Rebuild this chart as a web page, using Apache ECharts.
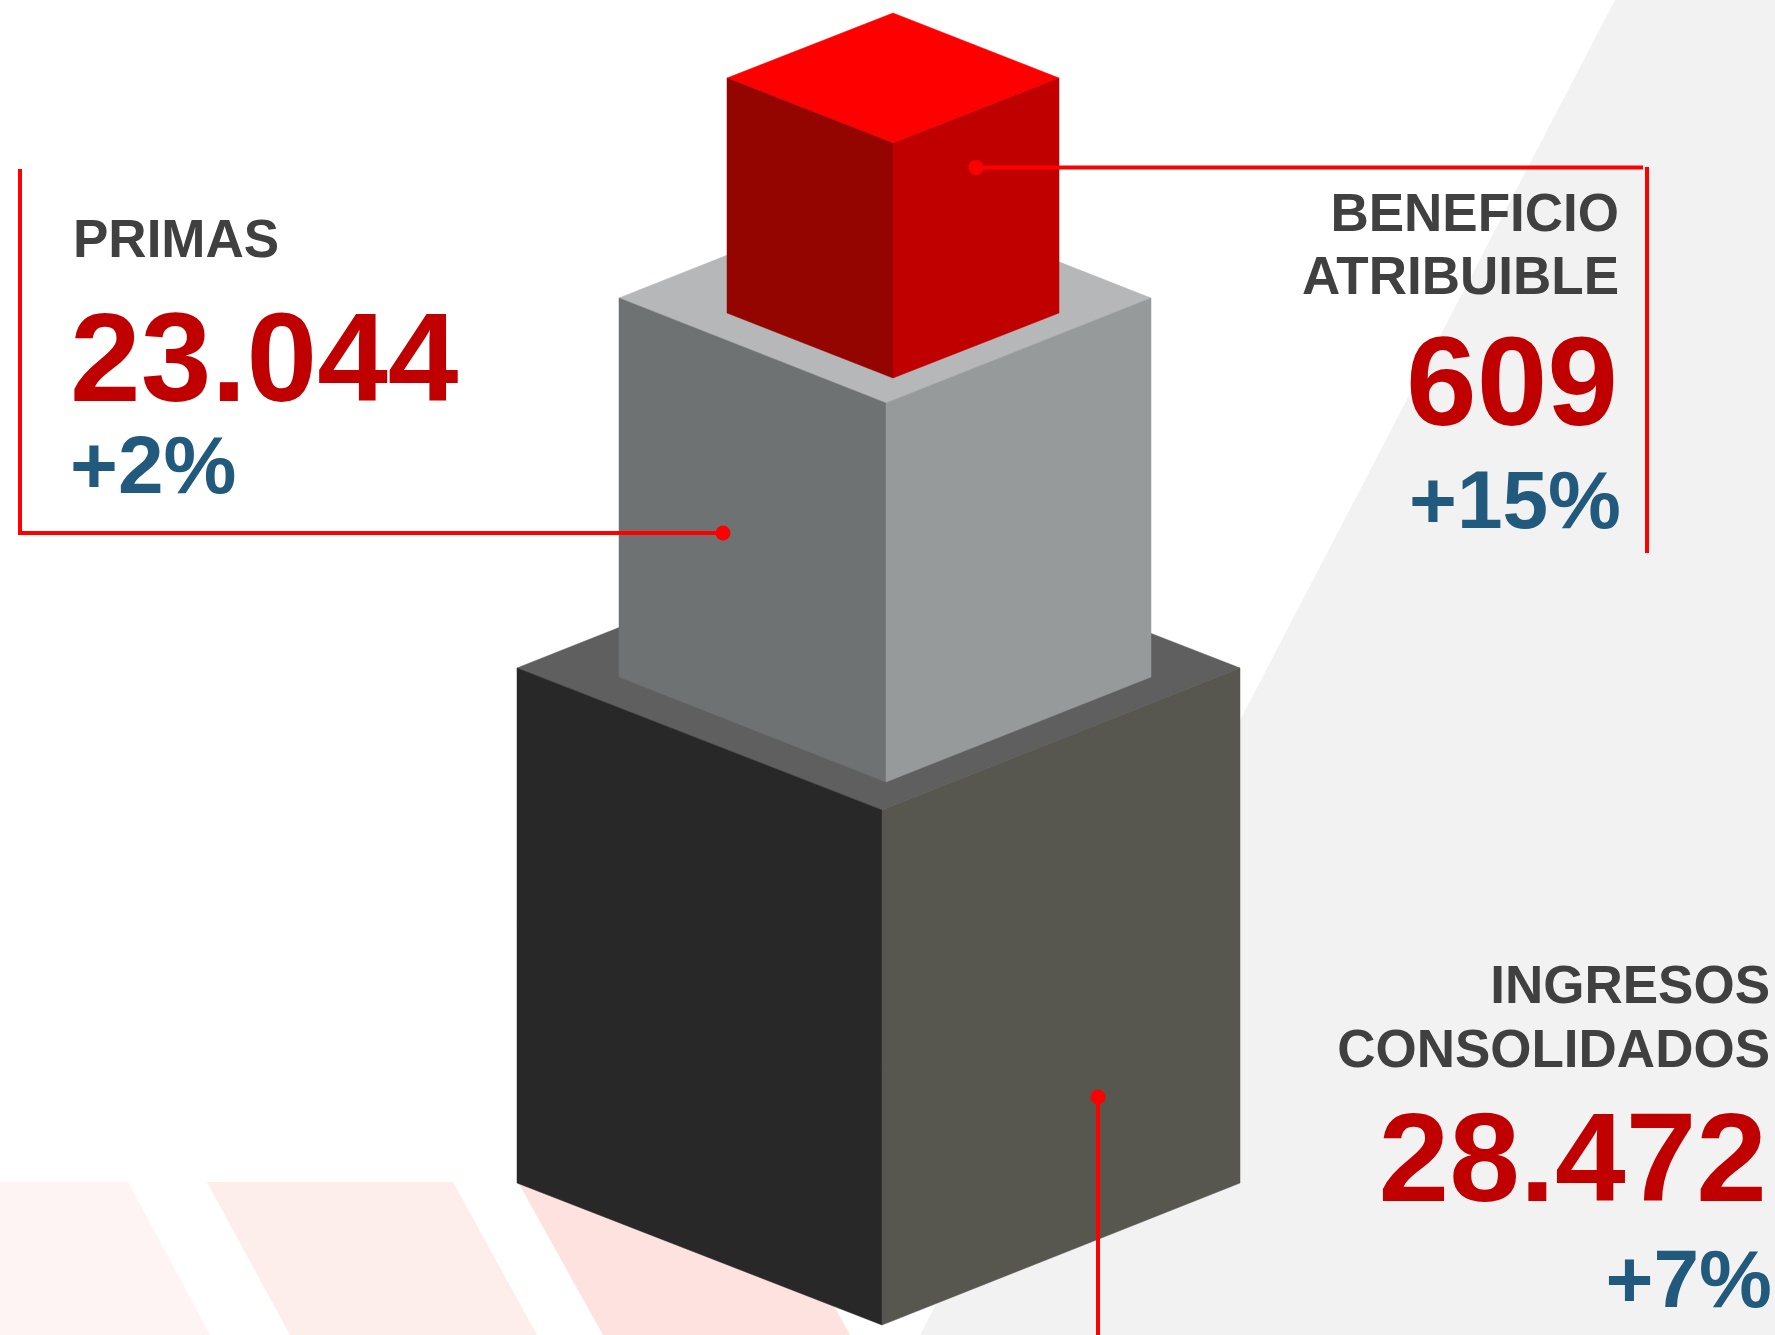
<!DOCTYPE html>
<html><head><meta charset="utf-8">
<script src="https://cdn.jsdelivr.net/npm/echarts@6/dist/echarts.min.js"></script>
<style>html,body{margin:0;padding:0;background:#fff}#c{width:1775px;height:1335px}</style>
</head><body><div id="c"></div>
<script>
// ---- data ----
const categories = ['INGRESOS CONSOLIDADOS', 'PRIMAS', 'BENEFICIO ATRIBUIBLE'];
const titleLines = [['INGRESOS', 'CONSOLIDADOS'], ['PRIMAS'], ['BENEFICIO', 'ATRIBUIBLE']];
const values = [28472, 23044, 609];
const changes = [7, 2, 15];

// ---- layout (axis units = px) ----
const CUBES = [
  {xl: 517, xf: 882, xr: 1240, yt: 668, d: 142, h: 515, top: '#5F5F5F', left: '#282828', right: '#575750'},
  {xl: 619, xf: 886, xr: 1151, yt: 298, d: 105, h: 379, top: '#B6B7B8', left: '#6F7273', right: '#979A9B'},
  {xl: 727, xf: 893, xr: 1059, yt: 78, d: 65, h: 235, top: '#FF0000', left: '#940500', right: '#C00000'}
];
const LABELS = [
  {align: 'right', titleX: 1770, titleY: [1003, 1067], titleSize: 53, valueX: 1767, valueY: 1200, pctX: 1772, pctY: 1307,
   dot: [1098, 1097], paths: [[[1098, 1097], [1098, 1340]]]},
  {align: 'left', titleX: 73, titleY: [257], titleSize: 53, valueX: 70, valueY: 400, pctX: 70, pctY: 493,
   dot: [723, 533], paths: [[[20, 169], [20, 533], [723, 533]]]},
  {align: 'right', titleX: 1619, titleY: [231, 294], titleSize: 53, valueX: 1618, valueY: 424, pctX: 1621, pctY: 528,
   dot: [976, 167.5], paths: [[[976, 167.5], [1643, 167.5]], [[1647, 167], [1647, 553]]]}
];
const VALUE_SIZE = 127, PCT_SIZE = 82;
const FONT = '"Liberation Sans", Arial, sans-serif';

function fmt(v) { return String(v).replace(/\B(?=(\d{3})+(?!\d))/g, '.'); }

const chart = echarts.init(document.getElementById('c'), null, {renderer: 'canvas'});

function cubeItem(params, api) {
  const c = CUBES[params.dataIndex];
  const P = (x, y) => api.coord([x, y]);
  const xb = c.xl + c.xr - c.xf;
  return {
    type: 'group',
    children: [
      {type: 'polygon', shape: {points: [P(c.xl, c.yt), P(xb, c.yt - c.d), P(c.xr, c.yt), P(c.xf, c.yt + c.d)]},
       style: {fill: c.top, stroke: c.top, lineWidth: 0.5}},
      {type: 'polygon', shape: {points: [P(c.xl, c.yt), P(c.xf, c.yt + c.d), P(c.xf, c.yt + c.d + c.h), P(c.xl, c.yt + c.h)]},
       style: {fill: c.left, stroke: c.left, lineWidth: 0.5}},
      {type: 'polygon', shape: {points: [P(c.xf, c.yt + c.d), P(c.xr, c.yt), P(c.xr, c.yt + c.h), P(c.xf, c.yt + c.d + c.h)]},
       style: {fill: c.right, stroke: c.right, lineWidth: 0.5}}
    ]
  };
}

function textAt(x, y, str, size, color, align) {
  // y is baseline
  return {type: 'text', x: x, y: y - 0.27 * size,
    style: {text: str, fontFamily: FONT, fontWeight: 'bold', fontSize: size, fill: color,
            align: align, verticalAlign: 'middle'}};
}

function labelItem(params, api) {
  const i = params.dataIndex;
  const L = LABELS[i];
  const P = (x, y) => api.coord([x, y]);
  const children = [];
  L.paths.forEach(p => {
    children.push({type: 'polyline', shape: {points: p.map(q => P(q[0], q[1]))},
      style: {stroke: '#FF0000', lineWidth: 4, fill: null}});
  });
  const d = P(L.dot[0], L.dot[1]);
  children.push({type: 'circle', shape: {cx: d[0], cy: d[1], r: 7.5}, style: {fill: '#FF0000'}});
  titleLines[i].forEach((t, k) => {
    const p = P(L.titleX, L.titleY[k]);
    children.push(textAt(p[0], p[1], t, L.titleSize, '#404040', L.align));
  });
  const pv = P(L.valueX, L.valueY);
  children.push(textAt(pv[0], pv[1], fmt(api.value(1)), VALUE_SIZE, '#C00000', L.align));
  const pp = P(L.pctX, L.pctY);
  children.push(textAt(pp[0], pp[1], '+' + api.value(2) + '%', PCT_SIZE, '#215A7D', L.align));
  return {type: 'group', children: children};
}

const seriesData = categories.map((c, i) => ({name: c, value: [i, values[i], changes[i]]}));

chart.setOption({
  animation: false,
  backgroundColor: '#FFFFFF',
  grid: {left: 0, right: 0, top: 0, bottom: 0},
  xAxis: {type: 'value', min: 0, max: 1775, show: false},
  yAxis: {type: 'value', min: 0, max: 1335, inverse: true, show: false},
  graphic: [
    {type: 'polygon', z: -10, shape: {points: [[1615, 0], [1775, 0], [1775, 1335], [920, 1335]]}, style: {fill: '#F2F2F2'}},
    {type: 'polygon', z: -10, shape: {points: [[0, 1182], [128, 1182], [210, 1335], [0, 1335]]}, style: {fill: '#FEF4F3'}},
    {type: 'polygon', z: -10, shape: {points: [[207, 1182], [453, 1182], [537, 1335], [290, 1335]]}, style: {fill: '#FDEEEC'}},
    {type: 'polygon', z: -10, shape: {points: [[518, 1182], [766, 1182], [850, 1335], [603, 1335]]}, style: {fill: '#FDE2DF'}}
  ],
  series: [
    {type: 'custom', name: 'cubos', z: 2, renderItem: cubeItem, data: seriesData, silent: true},
    {type: 'custom', name: 'etiquetas', z: 5, renderItem: labelItem, data: seriesData, silent: true}
  ]
});
</script></body></html>
